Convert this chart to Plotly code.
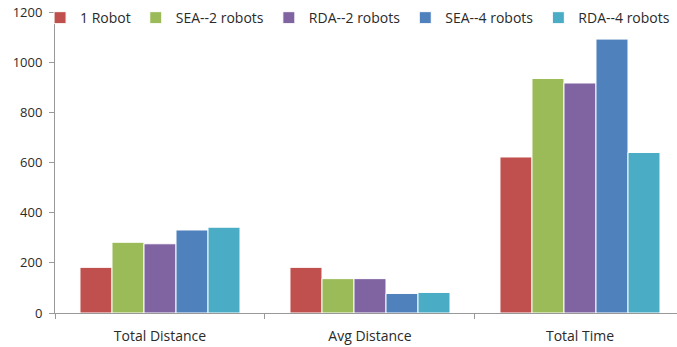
import plotly.graph_objects as go

categories = ["Total Distance", "Avg Distance", "Total Time"]
series_names = ["1 Robot", "SEA--2 robots", "RDA--2 robots", "SEA--4 robots", "RDA--4 robots"]
robot1 = [182, 182, 622]
sea2 = [282, 137, 935]
rda2 = [276, 137, 917]
sea4 = [331, 78, 1092]
rda4 = [342, 82, 640]
colors = ["#C0504D", "#9BBB59", "#8064A2", "#4F81BD", "#4BACC6"]
y_ticks = [0, 200, 400, 600, 800, 1000, 1200]

series_values = [robot1, sea2, rda2, sea4, rda4]

fig = go.Figure()
for name, vals, col in zip(series_names, series_values, colors):
    fig.add_trace(go.Bar(x=categories, y=vals, name=name, marker_color=col,
                         marker_line=dict(color="white", width=1)))

font_family = "Open Sans, Liberation Sans, sans-serif"
fig.update_layout(
    width=677, height=347,
    margin=dict(l=55, r=0, t=12, b=34, autoexpand=False),
    paper_bgcolor="white", plot_bgcolor="white",
    barmode="group", bargap=0.238, bargroupgap=0,
    font=dict(family=font_family, size=14, color="#2a2a2a"),
    legend=dict(orientation="h", x=-0.024, y=1.033, xanchor="left", yanchor="top",
                font=dict(size=14), itemwidth=30,
                bgcolor="rgba(0,0,0,0)", tracegroupgap=0),
    showlegend=True,
)
fig.update_yaxes(range=[0, 1200], tickvals=y_ticks,
                 showgrid=False, showline=True, linecolor="#999", linewidth=1,
                 ticks="outside", ticklen=5, tickcolor="#999", zeroline=False,
                 tickfont=dict(size=13), ticklabelstandoff=4)
fig.update_xaxes(range=[-0.5, 2.462], showline=True, linecolor="#999", linewidth=1,
                 ticks="outside", tickson="boundaries", ticklen=5, tickcolor="#999",
                 tickfont=dict(size=14), ticklabelstandoff=10)

fig.write_html("out.html")
